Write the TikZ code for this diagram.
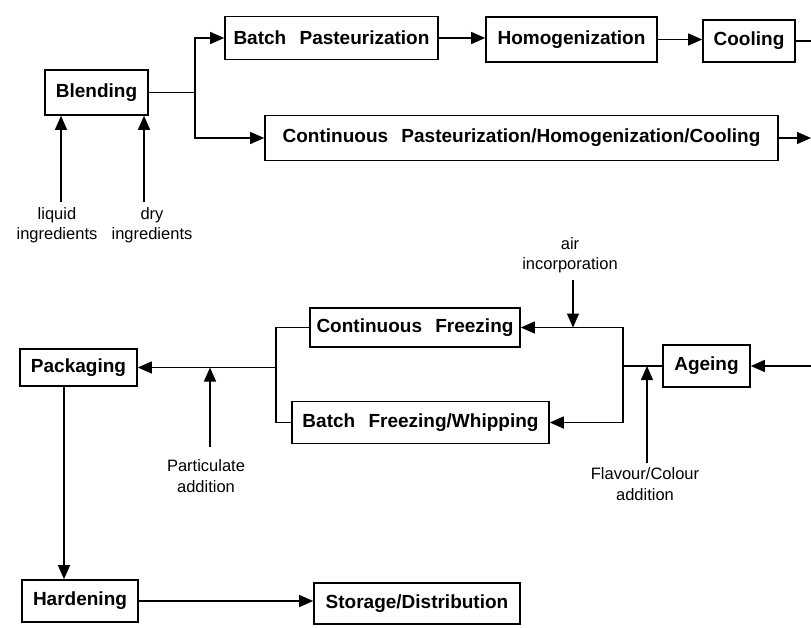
\documentclass[tikz,border=0pt]{standalone}
\usepackage{fontspec}
\setmainfont{Liberation Sans}
\usetikzlibrary{arrows.meta,calc}
\tikzset{
  procbox/.style={draw, line width=1.6pt, inner sep=0pt, align=center,
    font=\bfseries\fontsize{19}{22}\selectfont},
  lbl/.style={inner sep=0pt, align=center, font=\fontsize{16.5}{20.5}\selectfont},
  conn/.style={line width=1.3pt},
  arr/.style={conn, -{Triangle[length=14pt,width=12pt]}}
}
\newcommand{\wsp}{\hspace{0.7em}}
\begin{document}
\begin{tikzpicture}[x=1pt,y=-1pt]
\useasboundingbox (0,0) rectangle (811,627);
% top row
\node[procbox, minimum width=103pt, minimum height=45pt] (bl) at (96.5,92.5) {Blending};
\node[procbox, minimum width=213pt, minimum height=43pt] (bp) at (331.5,38) {Batch\wsp Pasteurization};
\node[procbox, minimum width=171pt, minimum height=45pt] (hm) at (571.5,39.5) {Homogenization};
\node[procbox, minimum width=92pt, minimum height=42pt] (co) at (749,41) {Cooling};
\node[procbox, minimum width=513pt, minimum height=45pt] (cp) at (521.5,138) {Continuous\wsp Pasteurization/Homogenization/Cooling};
% lower
\node[procbox, minimum width=210pt, minimum height=39pt] (cf) at (415,327.5) {Continuous\wsp Freezing};
\node[procbox, minimum width=257pt, minimum height=42pt] (bf) at (420.5,422.5) {Batch\wsp Freezing/Whipping};
\node[procbox, minimum width=87pt, minimum height=42pt] (ag) at (706.5,366) {Ageing};
\node[procbox, minimum width=117pt, minimum height=37pt] (pk) at (78.5,367.5) {Packaging};
\node[procbox, minimum width=116pt, minimum height=42pt] (hd) at (80,601) {Hardening};
\node[procbox, minimum width=206pt, minimum height=41pt] (sd) at (417,603.5) {Storage/Distribution};
% labels
\node[lbl] (liq) at (57,225) {liquid\\ingredients};
\node[lbl] (dry) at (152,225) {dry\\ingredients};
\node[lbl] (air) at (570,255) {air\\incorporation};
\node[lbl] (par) at (206,476) {Particulate\\addition};
\node[lbl] (fla) at (645,484) {Flavour/Colour\\addition};
% coordinates
\coordinate (j1) at (195,92.5);
\coordinate (edgeA) at (811,41);
\coordinate (edgeB) at (811,138);
\coordinate (edgeC) at (811,366);
\coordinate (j2) at (623,366);
\coordinate (j3) at (276,367.5);
\coordinate (liqs) at (61,202);
\coordinate (drys) at (144,202);
\coordinate (airs) at (573,280);
\coordinate (airt) at (573,327.5);
\coordinate (flas) at (647,463);
\coordinate (flat) at (647,366);
\coordinate (pars) at (210,447);
\coordinate (part) at (210,367.5);
\coordinate (pkd) at (64,386);
% top connectors
\draw[conn] (bl.east) -- (j1);
\draw[arr] (j1) |- (bp.west);
\draw[arr] (j1) |- (cp.west);
\draw[arr] (bp.east) -- (bp.east -| hm.west);
\draw[arr] (hm.east) -- (hm.east -| co.west);
\draw[conn] (co.east) -- (edgeA);
\draw[arr] (cp.east) -- (edgeB);
\draw[arr] (liqs) -- (liqs |- bl.south);
\draw[arr] (drys) -- (drys |- bl.south);
% lower connectors
\draw[arr] (edgeC) -- (ag.east);
\draw[conn] (ag.west) -- (j2);
\draw[arr] (j2) |- (cf.east);
\draw[arr] (j2) |- (bf.east);
\draw[arr] (airs) -- (airt);
\draw[arr] (flas) -- (flat);
\draw[conn] (cf.west) -| (j3) |- (bf.west);
\draw[arr] (j3) -- (pk.east);
\draw[arr] (pars) -- (part);
\draw[arr] (pkd) -- (pkd |- hd.north);
\draw[arr] (hd.east) -- (hd.east -| sd.west);
\end{tikzpicture}
\end{document}
